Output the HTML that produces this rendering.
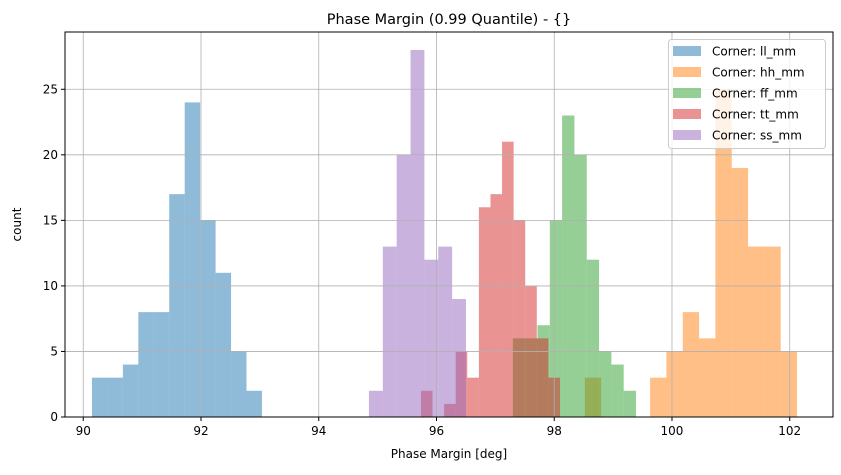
<!DOCTYPE html>
<html><head><meta charset="utf-8"><style>
body{margin:0;background:#fff;font-family:"Liberation Sans","DejaVu Sans",sans-serif}
svg text{font-family:"DejaVu Sans","Liberation Sans",sans-serif}
</style></head><body>
<svg id="chart" width="841" height="470" xmlns="http://www.w3.org/2000/svg"></svg>
<script>
const seriesNames=["Corner: ll_mm","Corner: hh_mm","Corner: ff_mm","Corner: tt_mm","Corner: ss_mm"];
const seriesColors=["#1f77b4","#ff7f0e","#2ca02c","#d62728","#9467bd"];
const binStarts=[90.148,98.52,97.297,95.736,94.853];
const binWidths=[0.2625,0.2772,0.2092,0.1968,0.2354];
const countsLL=[3,3,4,8,8,17,24,15,11,5,2];
const countsHH=[3,0,0,0,3,5,8,6,25,19,13,13,5];
const countsFF=[6,6,7,15,23,20,12,5,4,2];
const countsTT=[2,0,1,5,3,16,17,21,15,10,6,3];
const countsSS=[2,13,20,28,12,13,9];
const xTicks=[90,92,94,96,98,100,102];
const yTicks=[0,5,10,15,20,25];
const allCounts=[countsLL,countsHH,countsFF,countsTT,countsSS];

const L=65,R=833,T=32,B=417;
const xMin=89.69,xMax=102.735,yMax=29.37;
const X=v=>L+(v-xMin)/(xMax-xMin)*(R-L);
const Y=v=>B-v/yMax*(B-T);
const svg=document.getElementById('chart');
const NS="http://www.w3.org/2000/svg";
function mk(tag,attrs,parent){const e=document.createElementNS(NS,tag);for(const k in attrs)e.setAttribute(k,attrs[k]);(parent||svg).appendChild(e);return e;}

// bars
allCounts.forEach((arr,s)=>{
  const g=mk('g',{});
  
  
  arr.forEach((c,i)=>{
    if(c<=0)return;
    const x0=X(binStarts[s]+i*binWidths[s]),x1=X(binStarts[s]+(i+1)*binWidths[s]);
    const r=mk('rect',{x:x0,y:Y(c),width:x1-x0,height:Y(0)-Y(c),fill:seriesColors[s],'fill-opacity':0.5},g);
    
    
  });
});

// grid (drawn above bars, like reference)
xTicks.forEach(t=>{const l=mk('line',{x1:X(t),x2:X(t),y1:T,y2:B,stroke:'#b0b0b0','stroke-width':0.8});

});
yTicks.forEach(t=>{const l=mk('line',{x1:L,x2:R,y1:Y(t),y2:Y(t),stroke:'#b0b0b0','stroke-width':0.8});

});

// axes frame
const fr=mk('rect',{x:L,y:T,width:R-L,height:B-T,fill:'none',stroke:'#000','stroke-width':1});



xTicks.forEach(t=>{
  mk('line',{x1:X(t),x2:X(t),y1:B,y2:B+4,stroke:'#000'});
  const tx=mk('text',{x:X(t),y:B+18,'font-size':12,'text-anchor':'middle'});tx.textContent=t;
  
  
});
yTicks.forEach(t=>{
  mk('line',{x1:L-4,x2:L,y1:Y(t),y2:Y(t),stroke:'#000'});
  const tx=mk('text',{x:L-7,y:Y(t)+4,'font-size':12,'text-anchor':'end'});tx.textContent=t;
  
  
});

const title=mk('text',{x:(L+R)/2,y:24,'font-size':14.5,'text-anchor':'middle'});title.textContent='Phase Margin (0.99 Quantile) - {}';


const xl=mk('text',{x:(L+R)/2,y:458,'font-size':12,'text-anchor':'middle'});xl.textContent='Phase Margin [deg]';


const yl=mk('text',{x:21,y:(T+B)/2,'font-size':12,'text-anchor':'middle',transform:'rotate(-90 21 '+((T+B)/2)+')'});yl.textContent='count';



// legend
const lg=mk('g',{});


mk('rect',{x:668.5,y:39.5,width:157,height:109,rx:3,fill:'#fff','fill-opacity':0.8,stroke:'#ccc'},lg);
seriesNames.forEach((n,i)=>{
  const e=mk('g',{},lg);
  
  
  const cy=51+i*21;
  mk('rect',{x:673,y:cy-5,width:28,height:10,fill:seriesColors[i],'fill-opacity':0.5},e);
  const t=mk('text',{x:712,y:cy+4.5,'font-size':12},e);t.textContent=n;
});
</script>
</body></html>
